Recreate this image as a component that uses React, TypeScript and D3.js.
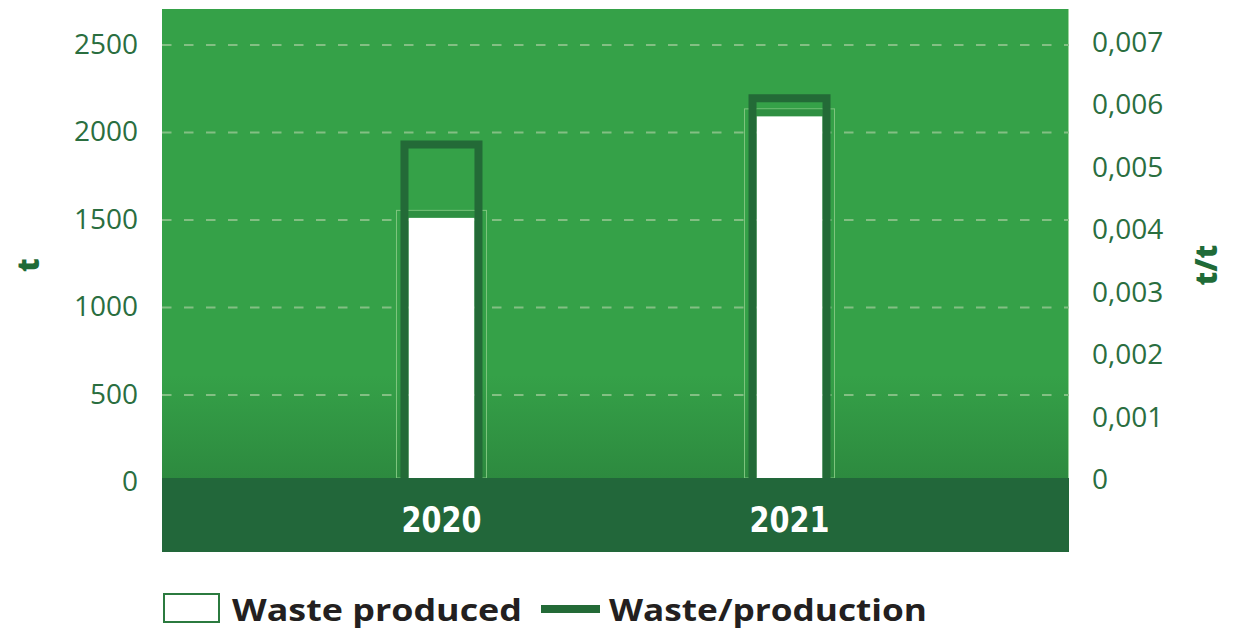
import React from "react";
import * as d3 from "d3";

const years = ["2020", "2021"];
const wasteProduced = [1555, 2135];
const wastePerProduction = [0.00539, 0.00613];
const leftTicks = [0, 500, 1000, 1500, 2000, 2500];
const rightTicks = [0, 0.001, 0.002, 0.003, 0.004, 0.005, 0.006, 0.007];
const legendLabels = ["Waste produced", "Waste/production"];

const W = 1234;
const H = 628;
const plotL = 162;
const plotR = 1069;
const plotT = 9;
const bandT = 478;
const plotB = 552;

const labelColor = "#2a6e3f";
const darkGreen = "#22673a";
const lineGreen = "#236a37";

export default function App() {
  const x = d3.scalePoint<string>().domain(years).range([plotL, plotR]).padding(0.803);
  const yL = d3.scaleLinear().domain([0, 2500]).range([482.5, 45]);
  const yR = d3.scaleLinear().domain([0, 0.007]).range([481, 44]);
  const fmtR = (v: number) => (v === 0 ? "0" : d3.format(".3f")(v).replace(".", ","));
  const font = "'Open Sans', 'Noto Sans', sans-serif";

  return (
    <svg width={W} height={H} style={{ position: "absolute", left: 0, top: 0 }}>
      <defs>
        <linearGradient id="bg" x1="0" y1="0" x2="0" y2="1">
          <stop offset="0" stopColor="#35a148" />
          <stop offset="0.78" stopColor="#35a148" />
          <stop offset="1" stopColor="#2d8a3f" />
        </linearGradient>
      </defs>
      <rect x={0} y={0} width={W} height={H} fill="#ffffff" />
      <rect x={plotL} y={plotT} width={plotR - plotL} height={bandT - plotT} fill="url(#bg)" />
      <line x1={plotR - 0.5} x2={plotR - 0.5} y1={plotT} y2={bandT} stroke="#9fd39f" strokeWidth={1} />
      {leftTicks.filter((t) => t > 0).map((t) => (
        <line key={t} x1={plotL} x2={plotR} y1={yL(t)} y2={yL(t)} stroke="#83bf83" strokeWidth={2.2} strokeDasharray="9.5 12.5" />
      ))}
      {years.map((yr, i) => {
        const cx = x(yr) as number;
        const top = yL(wasteProduced[i]);
        const rTop = yR(wastePerProduction[i]);
        return (
          <g key={yr}>
            <rect x={cx - 45} y={top} width={90} height={bandT - top} fill="none" stroke="#7fc57f" strokeWidth={1} />
            <rect x={cx - 33} y={top + 0.5} width={66} height={7} fill="#2f8f42" />
            <rect x={cx - 33} y={top + 7.5} width={66} height={bandT - top - 7.5} fill="#ffffff" />
            <path
              d={`M${cx - 37},${bandT} L${cx - 37},${rTop} L${cx + 37},${rTop} L${cx + 37},${bandT}`}
              fill="none"
              stroke={lineGreen}
              strokeWidth={8}
            />
          </g>
        );
      })}
      <rect x={plotL} y={bandT} width={plotR - plotL} height={plotB - bandT} fill={darkGreen} />
      {years.map((yr) => (
        <text
          key={yr}
          x={(x(yr) as number) - 40}
          y={520}
          textAnchor="start"
          dominantBaseline="central"
          fill="#ffffff"
          fontFamily="'DejaVu Sans', sans-serif"
          fontWeight={700}
          fontSize={35}
          textLength={80}
          lengthAdjust="spacingAndGlyphs"
        >
          {yr}
        </text>
      ))}
      {leftTicks.map((t) => (
        <text key={t} x={138} y={yL(t) - 2.5} textAnchor="end" dominantBaseline="central" fill={labelColor} fontFamily={font} fontSize={28}>
          {t}
        </text>
      ))}
      {rightTicks.map((t) => (
        <text key={t} x={1092} y={yR(t) - 3} textAnchor="start" dominantBaseline="central" fill={labelColor} fontFamily={font} fontSize={28}>
          {fmtR(t)}
        </text>
      ))}
      <text x={27} y={265} transform="rotate(-90 27 265)" textAnchor="middle" dominantBaseline="central" fill="#1f6b38" fontFamily={font} fontWeight={800} fontSize={30}>
        t
      </text>
      <text x={1205} y={265} transform="rotate(-90 1205 265)" textAnchor="middle" dominantBaseline="central" fill="#1f6b38" fontFamily={font} fontWeight={800} fontSize={30}>
        t/t
      </text>
      <rect x={164} y={594} width={55} height={28} fill="#ffffff" stroke="#2b7a3f" strokeWidth={2} />
      <text x={232} y={609} dominantBaseline="central" fill="#231f20" fontFamily={font} fontWeight={700} fontSize={30} textLength={290} lengthAdjust="spacingAndGlyphs">
        {legendLabels[0]}
      </text>
      <line x1={541} x2={600} y1={609} y2={609} stroke={lineGreen} strokeWidth={8} />
      <text x={609} y={609} dominantBaseline="central" fill="#231f20" fontFamily={font} fontWeight={700} fontSize={30} textLength={318} lengthAdjust="spacingAndGlyphs">
        {legendLabels[1]}
      </text>
    </svg>
  );
}
